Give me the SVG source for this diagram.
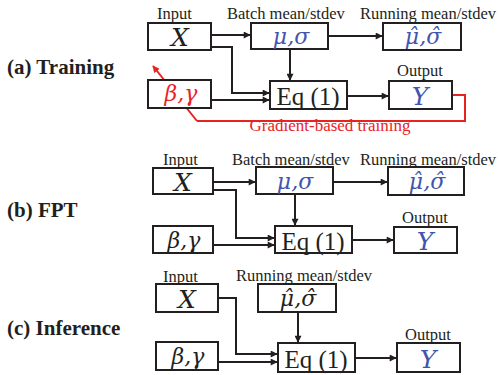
<svg xmlns="http://www.w3.org/2000/svg" width="498" height="375" viewBox="0 0 498 375">
<defs>
<style>
.box{fill:#fff;stroke:#231f20;stroke-width:2}
.ln{fill:none;stroke:#231f20;stroke-width:2}
.red{fill:none;stroke:#e8231f;stroke-width:2}
.lbl{font-family:"Liberation Serif",serif;font-size:16.5px;fill:#231f20}
.title{font-family:"Liberation Serif",serif;font-size:21px;font-weight:bold;fill:#231f20}
.math{font-family:"DejaVu Serif",serif;font-style:italic;font-size:22px;text-anchor:middle}
.big{font-size:25px}
.eq{font-family:"Liberation Serif",serif;font-size:25px;text-anchor:middle;fill:#231f20}
.blue{fill:#4254ae}
.blk{fill:#231f20}
.rd{fill:#e8231f}
</style>
<marker id="ah" viewBox="0 0 10 10" refX="9" refY="5" markerWidth="9" markerHeight="7" markerUnits="userSpaceOnUse" orient="auto"><path d="M0,0 L10,5 L0,10 z" fill="#231f20"/></marker>
<marker id="ahr" viewBox="0 0 10 10" refX="9" refY="5" markerWidth="9" markerHeight="7" markerUnits="userSpaceOnUse" orient="auto"><path d="M0,0 L10,5 L0,10 z" fill="#e8231f"/></marker>
</defs>

<g id="titles">
<text class="title" x="7" y="74">(a) Training</text>
<text class="title" x="7" y="217">(b) FPT</text>
<text class="title" x="7" y="335">(c) Inference</text>
</g>

<g id="connectors">
<!-- (a) -->
<line class="red" x1="197" y1="121" x2="153" y2="66" marker-end="url(#ahr)"/>
<polyline class="red" points="452,95 465,95 465,121 197,121"/>
<line class="ln" x1="211" y1="35" x2="250" y2="35" marker-end="url(#ah)"/>
<polyline class="ln" points="211,47 232,47 232,93 269,93" marker-end="url(#ah)"/>
<line class="ln" x1="211" y1="100" x2="269" y2="100" marker-end="url(#ah)"/>
<line class="ln" x1="328" y1="36" x2="382" y2="36" marker-end="url(#ah)"/>
<line class="ln" x1="290" y1="49" x2="290" y2="80" marker-end="url(#ah)"/>
<line class="ln" x1="347" y1="96" x2="388" y2="96" marker-end="url(#ah)"/>
<!-- (b) -->
<line class="ln" x1="213" y1="182" x2="255" y2="182" marker-end="url(#ah)"/>
<polyline class="ln" points="213,190 236,190 236,238 274,238" marker-end="url(#ah)"/>
<line class="ln" x1="213" y1="245" x2="274" y2="245" marker-end="url(#ah)"/>
<line class="ln" x1="333" y1="182" x2="387" y2="182" marker-end="url(#ah)"/>
<line class="ln" x1="295" y1="194" x2="295" y2="225" marker-end="url(#ah)"/>
<line class="ln" x1="352" y1="240" x2="393" y2="240" marker-end="url(#ah)"/>
<!-- (c) -->
<polyline class="ln" points="218,298 236,298 236,354 277,354" marker-end="url(#ah)"/>
<line class="ln" x1="218" y1="362" x2="277" y2="362" marker-end="url(#ah)"/>
<line class="ln" x1="298" y1="312" x2="298" y2="342" marker-end="url(#ah)"/>
<line class="ln" x1="355" y1="358" x2="396" y2="358" marker-end="url(#ah)"/>
</g>

<g id="a-labels">
<text class="lbl" x="157" y="19">Input</text>
<text class="lbl" x="227" y="19">Batch mean/stdev</text>
<text class="lbl" x="360" y="19">Running mean/stdev</text>
<text class="lbl" x="420" y="76" text-anchor="middle">Output</text>
<text class="lbl rd" x="330" y="131" text-anchor="middle" style="font-size:17px">Gradient-based training</text>
</g>
<g id="a-X"><rect class="box" x="148" y="23" width="63" height="27"/><text class="math big blk" x="180" y="46">X</text></g>
<g id="a-bg"><rect class="box" x="148" y="80" width="63" height="28"/><text class="math rd" x="181" y="101">β,γ</text></g>
<g id="a-ms"><rect class="box" x="251" y="23" width="77" height="26"/><text class="math blue" x="291" y="44">μ,σ</text></g>
<g id="a-rms"><rect class="box" x="383" y="23" width="78" height="27"/><text class="math blue" x="423" y="44">μ̂,σ̂</text></g>
<g id="a-eq"><rect class="box" x="270" y="81" width="77" height="28"/><text class="eq" x="308" y="105">Eq (1)</text></g>
<g id="a-Y"><rect class="box" x="389" y="81" width="63" height="28"/><text class="math big blue" x="420" y="105">Y</text></g>

<g id="b-labels">
<text class="lbl" x="163" y="165">Input</text>
<text class="lbl" x="232" y="165">Batch mean/stdev</text>
<text class="lbl" x="360" y="165">Running mean/stdev</text>
<text class="lbl" x="425" y="223" text-anchor="middle">Output</text>
</g>
<g id="b-X"><rect class="box" x="153" y="168" width="60" height="26"/><text class="math big blk" x="183" y="191">X</text></g>
<g id="b-bg"><rect class="box" x="153" y="226" width="60" height="27"/><text class="math blk" x="184" y="248">β,γ</text></g>
<g id="b-ms"><rect class="box" x="256" y="167" width="77" height="27"/><text class="math blue" x="295" y="189">μ,σ</text></g>
<g id="b-rms"><rect class="box" x="388" y="167" width="76" height="28"/><text class="math blue" x="427" y="189">μ̂,σ̂</text></g>
<g id="b-eq"><rect class="box" x="275" y="226" width="77" height="27"/><text class="eq" x="313" y="250">Eq (1)</text></g>
<g id="b-Y"><rect class="box" x="394" y="227" width="63" height="26"/><text class="math big blue" x="425" y="250">Y</text></g>

<g id="c-labels">
<text class="lbl" x="163" y="282">Input</text>
<text class="lbl" x="236" y="281">Running mean/stdev</text>
<text class="lbl" x="428" y="340" text-anchor="middle">Output</text>
</g>
<g id="c-X"><rect class="box" x="156" y="284" width="62" height="28"/><text class="math big blk" x="187" y="308">X</text></g>
<g id="c-bg"><rect class="box" x="156" y="342" width="62" height="28"/><text class="math blk" x="188" y="364">β,γ</text></g>
<g id="c-rms"><rect class="box" x="258" y="284" width="78" height="28"/><text class="math blk" x="298" y="306">μ̂,σ̂</text></g>
<g id="c-eq"><rect class="box" x="278" y="343" width="77" height="29"/><text class="eq" x="316" y="368">Eq (1)</text></g>
<g id="c-Y"><rect class="box" x="397" y="343" width="63" height="29"/><text class="math big blue" x="428" y="368">Y</text></g>
</svg>
